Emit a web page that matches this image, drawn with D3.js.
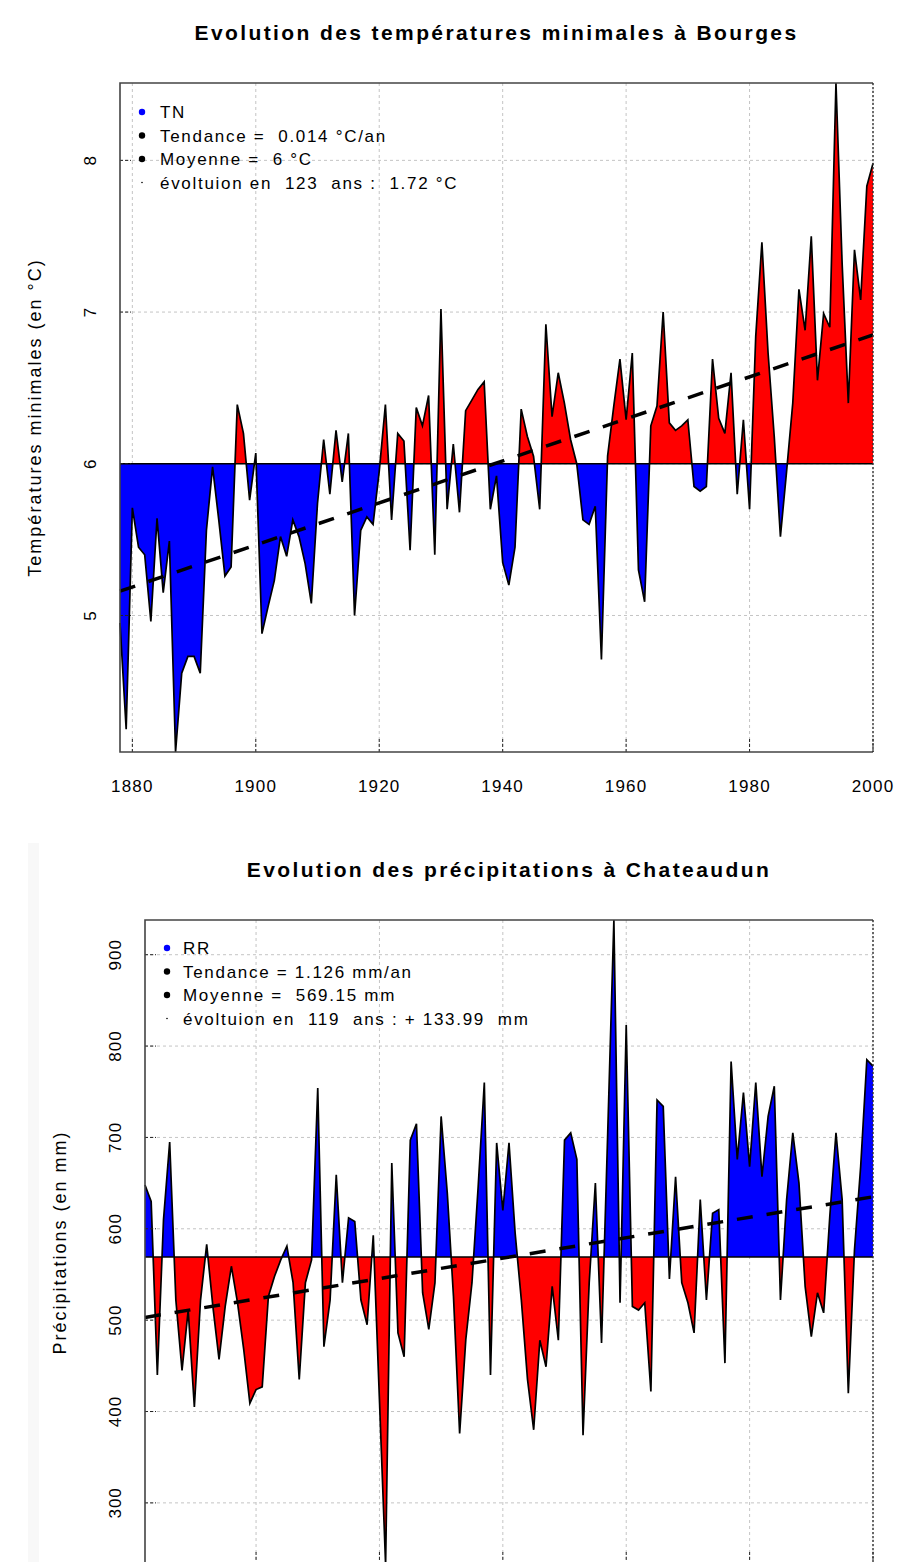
<!DOCTYPE html>
<html>
<head>
<meta charset="utf-8">
<script src="https://cdn.jsdelivr.net/npm/d3@7"></script>
<style>
  body { margin: 0; background: #fff; overflow: hidden; }
  text { font-family: "Liberation Sans", Arial, sans-serif; fill: #000; }
</style>
</head>
<body>
<svg id="chart" width="901" height="1562"></svg>
<script>
// ---- data: Bourges, minimal temperatures (1878-2000)
var tnStart = 1878;
var tnValues = [
	4.95, 4.25, 5.71, 5.45, 5.40, 4.96, 5.64, 5.15, 5.49, 4.10,
	4.62, 4.73, 4.73, 4.62, 5.56, 5.98, 5.63, 5.26, 5.32, 6.39,
	6.20, 5.76, 6.07, 4.88, 5.06, 5.23, 5.52, 5.39, 5.63, 5.52,
	5.34, 5.08, 5.74, 6.16, 5.80, 6.22, 5.88, 6.20, 5.00, 5.56,
	5.65, 5.60, 5.95, 6.39, 5.63, 6.20, 6.15, 5.43, 6.37, 6.25,
	6.45, 5.40, 7.02, 5.70, 6.13, 5.68, 6.35, 6.42, 6.49, 6.54,
	5.70, 5.92, 5.35, 5.20, 5.45, 6.36, 6.18, 6.05, 5.70, 6.92,
	6.31, 6.60, 6.40, 6.16, 6.00, 5.63, 5.60, 5.72, 4.71, 6.05,
	6.38, 6.69, 6.29, 6.73, 5.30, 5.09, 6.25, 6.38, 7.00, 6.27,
	6.22, 6.25, 6.29, 5.85, 5.82, 5.85, 6.69, 6.30, 6.20, 6.60,
	5.80, 6.29, 5.70, 6.84, 7.46, 6.73, 6.18, 5.52, 5.95, 6.40,
	7.15, 6.88, 7.50, 6.55, 6.99, 6.90, 8.51, 7.32, 6.40, 7.41,
	7.08, 7.83, 7.98
];
var tnMean = 6;
var tnTrend = [5.16, 6.85];   // trend value at first and last year
var tnYTicks = [5, 6, 7, 8];
var tnXTicks = [1880, 1900, 1920, 1940, 1960, 1980, 2000];
var tnTitle = "Evolution des températures minimales à Bourges";
var tnYLabel = "Températures minimales (en °C)";
var tnLegend = ["TN", "Tendance =  0.014 °C/an", "Moyenne =  6 °C", "évoltuion en  123  ans :  1.72 °C"];

// ---- data: Chateaudun, precipitation (1882-2000)
var rrStart = 1882;
var rrValues = [
	648, 630, 440, 610, 695, 522, 445, 511, 405, 522,
	583, 515, 457, 515, 559, 519, 468, 409, 424, 427,
	526, 548, 566, 581, 541, 435, 541, 566, 754, 471,
	522, 659, 541, 612, 608, 522, 495, 593, 413, 232,
	672, 486, 460, 697, 715, 530, 490, 541, 723, 639,
	526, 376, 479, 541, 646, 760, 440, 694, 620, 694,
	595, 522, 435, 380, 478, 449, 537, 478, 697, 705,
	676, 374, 541, 650, 475, 705, 938, 519, 823, 515,
	511, 519, 422, 741, 734, 545, 657, 541, 519, 486,
	632, 522, 617, 621, 453, 783, 676, 749, 668, 760,
	657, 723, 756, 522, 632, 705, 650, 537, 482, 530,
	508, 614, 705, 632, 420, 577, 668, 785, 778
];
var rrMean = 569.15;
var rrTrend = [503, 635];
var rrYTicks = [300, 400, 500, 600, 700, 800, 900];
var rrXTicks = [1900, 1920, 1940, 1960, 1980, 2000];
var rrTitle = "Evolution des précipitations à Chateaudun";
var rrYLabel = "Précipitations (en mm)";
var rrLegend = ["RR", "Tendance = 1.126 mm/an", "Moyenne =  569.15 mm", "évoltuion en  119  ans : + 133.99  mm"];

var svg = d3.select("#chart");

// faint strip at the left of the second picture
svg.append("rect")
	.attr("x", 28).attr("y", 843)
	.attr("width", 11).attr("height", 719)
	.style("fill", "#f8f8f8");

function drawChart(cfg){
	var years = cfg.values.map(function(d, i){ return cfg.start + i; });
	var data = cfg.values.map(function(d, i){ return {year: years[i], v: d}; });

	var x = d3.scaleLinear()
		.domain([cfg.start, years[years.length - 1]])
		.range([cfg.left, cfg.right]);
	var y = d3.scaleLinear()
		.domain(d3.extent(cfg.values))
		.range([cfg.bottom, cfg.top]);
	var yBase = y(cfg.mean);

	var g = svg.append("g");

	// grid
	g.selectAll(".gx")
		.data(cfg.xTicks)
		.enter()
		.append("line")
		.attr("x1", function(d){ return x(d); })
		.attr("x2", function(d){ return x(d); })
		.attr("y1", cfg.top)
		.attr("y2", cfg.bottom)
		.style("stroke", "#c4c4c4")
		.style("stroke-dasharray", "3,3");
	g.selectAll(".gy")
		.data(cfg.yTicks)
		.enter()
		.append("line")
		.attr("x1", cfg.left)
		.attr("x2", cfg.right)
		.attr("y1", function(d){ return y(d); })
		.attr("y2", function(d){ return y(d); })
		.style("stroke", "#c4c4c4")
		.style("stroke-dasharray", "3,3");

	// areas above / below the mean
	var id = cfg.id;
	var defs = svg.append("defs");
	defs.append("clipPath").attr("id", id + "up")
		.append("rect")
		.attr("x", cfg.left).attr("y", cfg.top)
		.attr("width", cfg.right - cfg.left).attr("height", yBase - cfg.top);
	defs.append("clipPath").attr("id", id + "down")
		.append("rect")
		.attr("x", cfg.left).attr("y", yBase)
		.attr("width", cfg.right - cfg.left).attr("height", cfg.bottom - yBase);

	var area = d3.area()
		.x(function(d){ return x(d.year); })
		.y0(yBase)
		.y1(function(d){ return y(d.v); });

	g.append("path")
		.datum(data)
		.attr("d", area)
		.attr("clip-path", "url(#" + id + "up)")
		.style("fill", cfg.upColor);
	g.append("path")
		.datum(data)
		.attr("d", area)
		.attr("clip-path", "url(#" + id + "down)")
		.style("fill", cfg.downColor);

	var line = d3.line()
		.x(function(d){ return x(d.year); })
		.y(function(d){ return y(d.v); });
	g.append("path")
		.datum(data)
		.attr("d", line)
		.style("fill", "none")
		.style("stroke", "#000")
		.style("stroke-width", 1.7);

	// mean line
	g.append("line")
		.attr("x1", cfg.left).attr("x2", cfg.right)
		.attr("y1", yBase).attr("y2", yBase)
		.style("stroke", "#000")
		.style("stroke-width", 1.5);

	// trend
	g.append("line")
		.attr("x1", x(cfg.start))
		.attr("x2", x(years[years.length - 1]))
		.attr("y1", y(cfg.trend[0]))
		.attr("y2", y(cfg.trend[1]))
		.style("stroke", "#000")
		.style("stroke-width", 3.5)
		.style("stroke-dasharray", "16,14");

	// inward ticks
	g.selectAll(".ty")
		.data(cfg.yTicks)
		.enter()
		.append("line")
		.attr("x1", cfg.left).attr("x2", cfg.left + 11)
		.attr("y1", function(d){ return y(d); })
		.attr("y2", function(d){ return y(d); })
		.style("stroke", "#222")
		.style("stroke-dasharray", "3,2");
	g.selectAll(".tx")
		.data(cfg.xTicks)
		.enter()
		.append("line")
		.attr("x1", function(d){ return x(d); })
		.attr("x2", function(d){ return x(d); })
		.attr("y1", cfg.bottom).attr("y2", cfg.bottom - 14)
		.style("stroke", "#222")
		.style("stroke-dasharray", "3,2");

	// frame
	g.append("path")
		.attr("d", "M" + cfg.right + "," + cfg.top + "H" + cfg.left + "V" + cfg.bottom + "H" + cfg.right)
		.style("fill", "none")
		.style("stroke", "#444")
		.style("stroke-width", 1.6);
	g.append("line")
		.attr("x1", cfg.right).attr("x2", cfg.right)
		.attr("y1", cfg.top).attr("y2", cfg.bottom)
		.style("stroke", "#333")
		.style("stroke-width", 1.4)
		.style("stroke-dasharray", "2,2");

	// legend
	var leg = g.selectAll(".leg")
		.data(cfg.legend)
		.enter()
		.append("g")
		.attr("transform", function(d, i){
			return "translate(0," + (cfg.legendTop + i*23.5) + ")";
		});
	leg.append("circle")
		.attr("cx", cfg.legendDot)
		.attr("cy", 0)
		.attr("r", function(d, i){ return i == 3 ? 0.8 : 3.2; })
		.style("fill", function(d, i){ return i == 0 ? "#0000ff" : "#000"; });
	leg.append("text")
		.attr("x", cfg.legendText)
		.attr("y", 6)
		.text(function(d){ return d; })
		.style("white-space", "pre")
		.style("font-size", "17px")
		.style("letter-spacing", "1.7px");

	// axis labels
	if(cfg.xLabels){
		g.selectAll(".lx")
			.data(cfg.xTicks)
			.enter()
			.append("text")
			.attr("x", function(d){ return x(d); })
			.attr("y", cfg.bottom + 40)
			.attr("text-anchor", "middle")
			.text(function(d){ return d; })
			.style("font-size", "17px")
			.style("letter-spacing", "1.2px");
	}
	g.selectAll(".ly")
		.data(cfg.yTicks)
		.enter()
		.append("text")
		.attr("transform", function(d){
			return "translate(" + (cfg.left - 24) + "," + y(d) + ") rotate(-90)";
		})
		.attr("text-anchor", "middle")
		.text(function(d){ return d; })
		.style("font-size", "17px")
		.style("letter-spacing", "1px");
	g.append("text")
		.attr("transform", "translate(" + (cfg.left - 79) + "," + ((cfg.top + cfg.bottom)/2) + ") rotate(-90)")
		.attr("text-anchor", "middle")
		.text(cfg.yLabel)
		.style("font-size", "18px")
		.style("letter-spacing", "2px");
	g.append("text")
		.attr("x", (cfg.left + cfg.right)/2)
		.attr("y", cfg.top - 43)
		.attr("text-anchor", "middle")
		.text(cfg.title)
		.style("font-size", "21px")
		.style("font-weight", "bold")
		.style("letter-spacing", "2.4px");
}

drawChart({
	id: "tn", values: tnValues, start: tnStart, mean: tnMean, trend: tnTrend,
	xTicks: tnXTicks, yTicks: tnYTicks, title: tnTitle, yLabel: tnYLabel, legend: tnLegend,
	left: 120, right: 873, top: 83, bottom: 752, xLabels: true,
	upColor: "#ff0000", downColor: "#0000ff",
	legendTop: 112, legendDot: 142, legendText: 160
});

// the lower picture is cut at the bottom of the page: no year labels visible
drawChart({
	id: "rr", values: rrValues, start: rrStart, mean: rrMean, trend: rrTrend,
	xTicks: rrXTicks, yTicks: rrYTicks, title: rrTitle, yLabel: rrYLabel, legend: rrLegend,
	left: 145, right: 873, top: 920, bottom: 1565, xLabels: false,
	upColor: "#0000ff", downColor: "#ff0000",
	legendTop: 948, legendDot: 167, legendText: 183
});
</script>
</body>
</html>
